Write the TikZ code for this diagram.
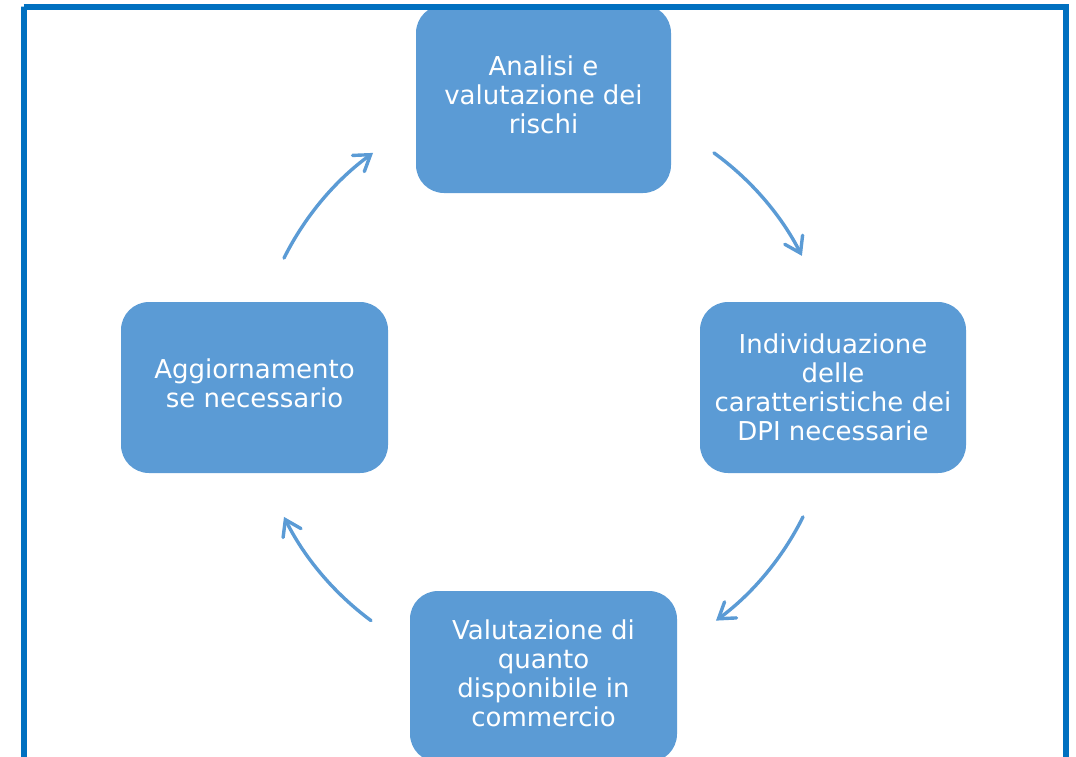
\documentclass[tikz,border=0pt]{standalone}
\usepackage{fontspec}
\setmainfont{DejaVu Sans}
\usetikzlibrary{arrows.meta}
\definecolor{boxblue}{HTML}{5B9BD5}
\definecolor{frameblue}{HTML}{0070C0}
\tikzset{
  box/.style={draw=none, fill=boxblue, rounded corners=28pt, inner sep=0pt},
  txt/.style={text=white, align=center, inner sep=0pt, font=\fontsize{26}{29}\selectfont},
  cyc/.style={draw=boxblue, line width=3.4pt, -{Straight Barb[length=15pt, width=20pt, line cap=round]}, line cap=round},
  frame/.style={draw=frameblue, line width=6pt}
}
\begin{document}
\begin{tikzpicture}[x=1pt, y=-1pt]
\useasboundingbox (0,0) rectangle (1076,756);
% boxes
\node[box, minimum width=255pt, minimum height=188pt] (top) at (543.5,99) {};
\node[box, minimum width=266pt, minimum height=171pt] (right) at (833,387.5) {};
\node[box, minimum width=267pt, minimum height=171pt] (left) at (254.5,387.5) {};
\node[box, minimum width=267pt, minimum height=171pt] (bottom) at (543.5,676.5) {};
% texts
\node[txt] (ttop) at (543.5,95) {Analisi e\\valutazione dei\\rischi};
\node[txt] (tright) at (833,387.5) {Individuazione\\delle\\caratteristiche dei\\DPI necessarie};
\node[txt] (tleft) at (254.5,383.5) {Aggiornamento\\se necessario};
\node[txt] (tbottom) at (543.5,673) {Valutazione di\\quanto\\disponibile in\\commercio};
% cycle arrows
\coordinate (c) at (543.5,387.5);
\draw[cyc] ([shift={(-54:290)}]c) arc[start angle=-54, end angle=-27, radius=290];
\draw[cyc] ([shift={(26.5:290)}]c) arc[start angle=26.5, end angle=53.5, radius=290];
\draw[cyc] ([shift={(126.5:290)}]c) arc[start angle=126.5, end angle=153.5, radius=290];
\draw[cyc] ([shift={(206.5:290)}]c) arc[start angle=206.5, end angle=234, radius=290];
% frame
\draw[frame] (23.5,6.5) -- (1065.5,6.5) -- (1065.5,800) (23.5,800) -- (23.5,6.5) -- cycle;
\end{tikzpicture}
\end{document}
